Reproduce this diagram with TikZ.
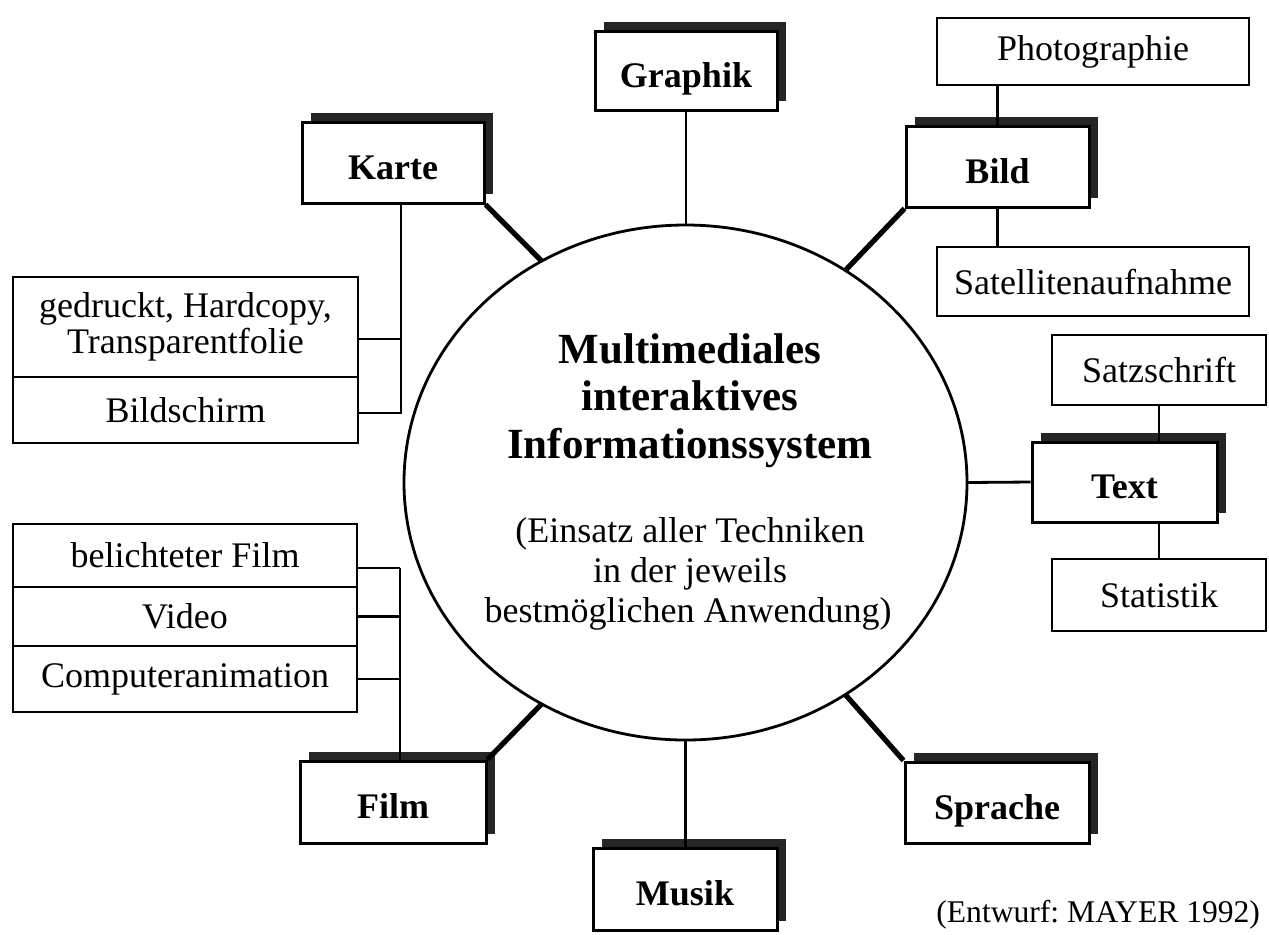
\documentclass[tikz,border=0pt]{standalone}
\usepackage{fontspec}
\setmainfont{Liberation Serif}
\usetikzlibrary{shadows,shapes.geometric,calc}
\begin{document}
\begin{tikzpicture}[x=0.5pt,y=-0.5pt,
  lab/.style={font=\bfseries\fontsize{18}{20}\selectfont, text height=17pt, text depth=0.5pt},
  shbox/.style={draw, line width=1.5pt, fill=white, inner sep=0pt, lab,
     general shadow={fill=black!85, shadow xshift=4.5pt, shadow yshift=4.5pt}},
  subbox/.style={draw, line width=1.4pt, fill=white, inner sep=0pt,
     font=\fontsize{18}{18}\selectfont, align=center},
  conn/.style={line width=1.4pt},
  dconn/.style={line width=2.6pt},
  titlefont/.style={font=\bfseries\fontsize{21.5}{23.5}\selectfont},
  subfont/.style={font=\fontsize{18}{20}\selectfont}]
\fill[white] (0,0) rectangle (1269,934);
\useasboundingbox (0,0) rectangle (1269,934);

% central ellipse
\node[ellipse, draw, line width=1.4pt, minimum width=281.5pt, minimum height=257.5pt,
      inner sep=0pt, outer sep=0pt] (c) at (685.5,482.5) {};
\node[titlefont, anchor=base] (m1) at (690,363) {Multimediales};
\node[titlefont, anchor=base] (m2) at (690,410) {interaktives};
\node[titlefont, anchor=base] (m3) at (690,458) {Informationssystem};
\node[subfont, anchor=base] (s1) at (690,542) {(Einsatz aller Techniken};
\node[subfont, anchor=base] (s2) at (690,582) {in der jeweils};
\node[subfont, anchor=base] (s3) at (688,622) {bestmöglichen Anwendung)};

% main boxes
\node[shbox, minimum width=91pt, minimum height=39.5pt] (graphik) at (686,70.5) {Graphik};
\node[shbox, minimum width=91pt, minimum height=40.5pt] (karte) at (393,162.5) {Karte};
\node[shbox, minimum width=91.5pt, minimum height=40.5pt] (bild) at (997.5,166.5) {Bild};
\node[shbox, minimum width=92.5pt, minimum height=40pt] (text) at (1124.5,482) {Text};
\node[shbox, minimum width=93pt, minimum height=41pt] (film) at (393,802) {Film};
\node[shbox, minimum width=92pt, minimum height=41pt] (musik) at (685,889) {Musik};
\node[shbox, minimum width=92pt, minimum height=40.5pt] (sprache) at (997,802.5) {Sprache};

% sub boxes
\node[subbox, minimum width=156pt, minimum height=33.5pt] (photo) at (1093,51.5) {Photographie};
\node[subbox, minimum width=156pt, minimum height=34.5pt] (sat) at (1093,281.5) {Satellitenaufnahme};
\node[subbox, minimum width=107pt, minimum height=35pt] (satz) at (1159,370) {Satzschrift};
\node[subbox, minimum width=107pt, minimum height=36pt] (stat) at (1159,595) {Statistik};

\node[subbox, minimum width=172.5pt, minimum height=50pt] (gedruckt) at (185.5,327) {gedruckt, Hardcopy,\\Transparentfolie};
\node[subbox, minimum width=172.5pt, minimum height=33pt] (bildschirm) at (185.5,410) {Bildschirm};
\node[subbox, minimum width=172pt, minimum height=31.5pt] (belicht) at (185,555.5) {belichteter Film};
\node[subbox, minimum width=172pt, minimum height=29.5pt] (video) at (185,616.5) {Video};
\node[subbox, minimum width=172pt, minimum height=33pt] (comp) at (185,679) {Computeranimation};

% connectors to the ellipse
\draw[dconn] (karte.south east) -- (c.123);
\draw[dconn] (bild.south west) -- (c.53);
\draw[dconn] (film.north east) -- (c.237);
\draw[dconn] (sprache.north west) -- (c.307);
\draw[conn] (graphik.south) -- (graphik.south |- c.north);
\draw[conn] (c.south) -- (c.south |- musik.north);
\draw[conn] (c.east) -- (text.west);

% Bild cluster
\draw[conn] (bild.north) -- (bild.north |- photo.south);
\draw[conn] (bild.south) -- (bild.south |- sat.north);
% Text cluster
\draw[conn] (satz.south) -- (satz.south |- text.north);
\draw[conn] (stat.north) -- (stat.north |- text.south);

% Karte cluster
\coordinate (kb) at (401,413);
\draw[conn] (karte.south -| kb) -- (kb) -- (kb -| bildschirm.east);
\draw[conn] ([yshift=-6pt]gedruckt.east) -- ([yshift=-6pt]gedruckt.east -| kb);

% Film cluster
\coordinate (fb) at (400,568);
\draw[conn] (fb) -- (fb |- film.north);
\draw[conn] (fb) -- (fb -| belicht.east);
\draw[conn] (video.east) -- (video.east -| fb);
\draw[conn] (comp.east) -- (comp.east -| fb);

\node[anchor=base west, inner sep=0pt, font=\fontsize{15.8}{18}\selectfont] (src) at (936,922) {(Entwurf:\ MAYER 1992)};
\end{tikzpicture}
\end{document}
